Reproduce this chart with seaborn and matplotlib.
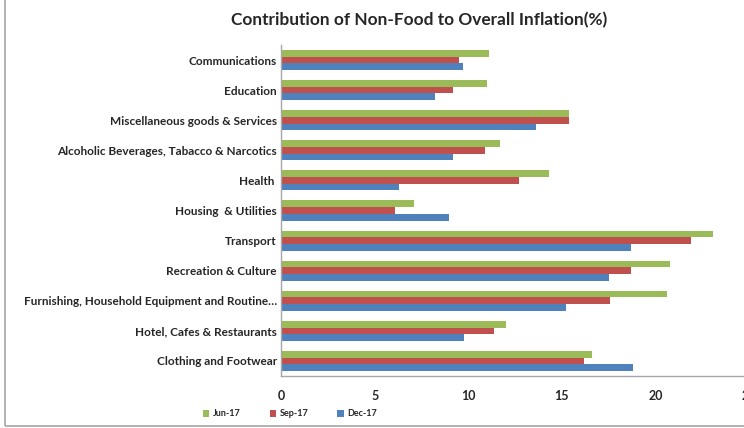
import numpy as np
import pandas as pd

import matplotlib.pyplot as plt
import seaborn as sns
from matplotlib.patches import Rectangle

categories = ['Communications', 'Education', 'Miscellaneous goods & Services',
              'Alcoholic Beverages, Tabacco & Narcotics', 'Health ', 'Housing  & Utilities',
              'Transport', 'Recreation & Culture',
              'Furnishing, Household Equipment and Routine\u2026',
              'Hotel, Cafes & Restaurants', 'Clothing and Footwear']
periods = ['Jun-17', 'Sep-17', 'Dec-17']

jun17 = [11.1, 11.0, 15.4, 11.7, 14.3, 7.1, 23.1, 20.8, 20.6, 12.0, 16.6]
sep17 = [9.5, 9.2, 15.4, 10.9, 12.7, 6.1, 21.9, 18.7, 17.6, 11.4, 16.2]
dec17 = [9.7, 8.2, 13.6, 9.2, 6.3, 9.0, 18.7, 17.5, 15.2, 9.8, 18.8]

colors = ['#9BBB59', '#C0504D', '#4F81BD']

df = pd.DataFrame({'Category': categories * 3,
                   'Period': np.repeat(periods, len(categories)),
                   'Value': jun17 + sep17 + dec17})

sns.set_style('white')
plt.rcParams['font.family'] = ['Lato', 'DejaVu Sans']
plt.rcParams['font.weight'] = 'bold'

fig = plt.figure(figsize=(7.44, 4.28), dpi=100)
ax = fig.add_axes([281 / 744, 52 / 428, (749 - 281) / 744, (376 - 45) / 428])

sns.barplot(data=df, y='Category', x='Value', hue='Period', orient='h',
            palette=colors, width=0.67, order=categories, hue_order=periods,
            edgecolor='none', saturation=1, ax=ax)

ax.set_xlim(0, 25)
ax.set_xticks([0, 5, 10, 15, 20, 25])
ax.set_xlabel('')
ax.set_ylabel('')
ax.set_ylim(len(categories) - 0.5, -0.5)

for s in ['top', 'right']:
    ax.spines[s].set_visible(False)
for s in ['left', 'bottom']:
    ax.spines[s].set_color('#A6A6A6')
    ax.spines[s].set_linewidth(1.0)

ax.tick_params(axis='x', direction='out', length=4, color='#A6A6A6', labelsize=9, pad=6)
ax.tick_params(axis='y', length=0, labelsize=8.5, pad=3)
ax.set_yticks(np.arange(-0.5, len(categories), 1), minor=True)
ax.tick_params(axis='y', which='minor', direction='out', length=4, color='#A6A6A6')
for lab in ax.get_xticklabels() + ax.get_yticklabels():
    lab.set_fontweight('bold')

ax.legend(loc='center', bbox_to_anchor=(290 / 744, 14 / 428), bbox_transform=fig.transFigure,
          ncol=3, frameon=False, handlelength=0.7, handleheight=0.7,
          handletextpad=0.4, columnspacing=3.2, prop={'weight': 'bold', 'size': 6.5})

fig.text(419 / 744, 1 - 20 / 428, 'Contribution of Non-Food to Overall Inflation(%)',
         ha='center', va='center', fontsize=12.4, fontweight='bold')

fig.patches.append(Rectangle((5 / 744, 2 / 428), 1.2, 1.2, transform=fig.transFigure,
                             fill=False, edgecolor='#A6A6A6', linewidth=1.2, clip_on=False))

fig.savefig('out.png', dpi=100)
